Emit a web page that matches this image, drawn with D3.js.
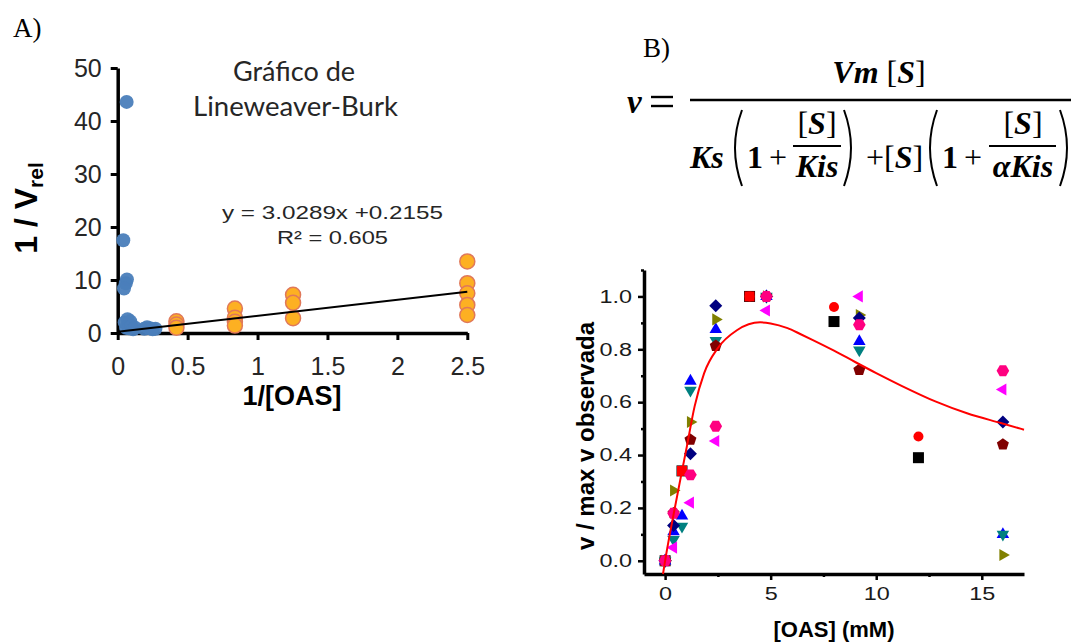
<!DOCTYPE html>
<html><head><meta charset="utf-8">
<script src="https://cdn.jsdelivr.net/npm/d3@7"></script>
<style>body{margin:0;background:#fff;} svg{display:block;}</style>
</head><body>
<svg id="chart" width="1076" height="642"></svg>
<script>
// ---------- Panel A data (Lineweaver-Burk) ----------
const aTicksX = [0, 0.5, 1, 1.5, 2, 2.5];
const aTickLabelsX = ["0", "0.5", "1", "1.5", "2", "2.5"];
const aTicksY = [0, 10, 20, 30, 40, 50];
const blueX = [0.064, 0.04, 0.066, 0.058, 0.045, 0.05, 0.07, 0.09, 0.06, 0.08, 0.1, 0.11, 0.125, 0.19, 0.21, 0.23, 0.25, 0.27];
const blueY = [43.6, 17.5, 10.1, 9.4, 8.4, 2.0, 2.6, 2.2, 1.0, 0.9, 1.3, 0.7, 1.0, 0.8, 1.1, 0.9, 0.7, 0.8];
const orangeX = [2.5, 2.5, 2.5, 2.5, 2.5, 1.254, 1.254, 1.254, 0.838, 0.838, 0.838, 0.838, 0.42, 0.42, 0.42];
const orangeY = [13.5, 9.4, 7.5, 5.3, 3.4, 7.2, 5.7, 2.8, 4.6, 2.9, 2.1, 1.4, 2.2, 1.6, 1.0];
const trendSlope = 3.0289, trendIntercept = 0.2155;
const trendX = [0, 2.5];
const trendLabel1 = "y = 3.0289x +0.2155";
const trendLabel2 = "R² = 0.605";

// ---------- Panel B data ----------
const bTicksX = [0, 5, 10, 15];
const bMinorX = [2.5, 7.5, 12.5];
const bTicksY = [0, 0.2, 0.4, 0.6, 0.8, 1.0];
const bTickLabelsY = ["0.0", "0.2", "0.4", "0.6", "0.8", "1.0"];
const bMinorY = [0.1, 0.3, 0.5, 0.7, 0.9, 1.1];

const sqBlackX = [0, 0.8, 4, 8, 12];
const sqBlackY = [0, 0.34, 1.0, 0.905, 0.39];
const circRedX = [0, 4, 8, 12];
const circRedY = [0, 1.0, 0.96, 0.47];
const sqRedX = [0, 0.8, 4];
const sqRedY = [0, 0.34, 1.0];
const triUpX = [0, 0.4, 0.8, 1.2, 2.4, 4.8, 9.2, 16];
const triUpY = [0, 0.11, 0.17, 0.68, 0.875, 1.0, 0.83, 0.1];
const triDownX = [0, 0.4, 0.8, 1.2, 2.4, 4.8, 9.2, 16];
const triDownY = [0, 0.08, 0.13, 0.645, 0.833, 1.0, 0.797, 0.1];
const triLeftX = [0, 0.4, 1.2, 2.4, 4.8, 9.2, 16];
const triLeftY = [0, 0.05, 0.22, 0.453, 0.947, 1.0, 0.648];
const triRightX = [0, 0.4, 1.2, 2.4, 4.8, 9.2, 16];
const triRightY = [0, 0.266, 0.525, 0.913, 1.0, 0.93, 0.022];
const diamondX = [0, 0.4, 1.2, 2.4, 4.8, 9.2, 16];
const diamondY = [0, 0.133, 0.405, 0.965, 1.0, 0.918, 0.525];
const pentagonX = [0, 0.4, 1.2, 2.4, 4.8, 9.2, 16];
const pentagonY = [0, 0.18, 0.458, 0.813, 1.0, 0.722, 0.44];
const hexagonX = [0, 0.4, 1.2, 2.4, 4.8, 9.2, 16];
const hexagonY = [0, 0.18, 0.325, 0.509, 1.0, 0.893, 0.719];

// fitted curve, points
const fitX = [-0.1, 0, 0.4, 0.8, 1.0, 1.4, 1.85, 2.5, 3.4, 4.5, 5.0, 5.8, 6.4, 7.0, 8.0, 9.0, 10, 11.2, 12.8, 14.3, 15.9, 17];
const fitY = [-0.05, 0, 0.175, 0.34, 0.42, 0.585, 0.71, 0.805, 0.872, 0.902, 0.898, 0.88, 0.858, 0.835, 0.795, 0.752, 0.71, 0.662, 0.603, 0.558, 0.521, 0.496];

const svg = d3.select("#chart");
const SANS = "'Liberation Sans', Arial, sans-serif";
const SERIF = "'Liberation Serif', 'Times New Roman', serif";

// ================= PANEL A =================
const ax = d3.scaleLinear().domain([0, 2.5]).range([117.7, 467.3]);
const ay = d3.scaleLinear().domain([0, 50]).range([333, 68]);

svg.append("text").attr("x", 13).attr("y", 37).attr("font-family", SERIF)
  .attr("font-size", 27).attr("fill", "#000").text("A)");

const gA = svg.append("g");
const axA = gA.append("g").attr("transform", "translate(0,333)")
  .call(d3.axisBottom(ax).tickValues(aTicksX).tickFormat((d, i) => aTickLabelsX[i]).tickSize(7).tickSizeOuter(0).tickPadding(17));
const ayA = gA.append("g").attr("transform", "translate(117.7,0)")
  .call(d3.axisLeft(ay).tickValues(aTicksY).tickSize(7).tickSizeOuter(0).tickPadding(9));
[axA, ayA].forEach(g => {
  g.select(".domain").attr("stroke", "#000").attr("stroke-width", 3.5);
  g.selectAll(".tick line").attr("stroke", "#000").attr("stroke-width", 3);
  g.selectAll(".tick text").attr("font-family", SANS).attr("font-size", 25).attr("fill", "#262626");
});

const trendLine = d3.line().x(d => ax(d)).y(d => ay(trendSlope * d + trendIntercept));

gA.selectAll(".blue").data(blueX.map((x, i) => [x, blueY[i]])).join("circle")
  .attr("cx", d => ax(d[0])).attr("cy", d => ay(d[1])).attr("r", 7)
  .attr("fill", "#4a7ebb").attr("fill-opacity", 0.95);
gA.selectAll(".orange").data(orangeX.map((x, i) => [x, orangeY[i]])).join("circle")
  .attr("cx", d => ax(d[0])).attr("cy", d => ay(d[1])).attr("r", 7.5)
  .attr("fill", "#fdb022").attr("stroke", "#e0785a").attr("stroke-width", 1.5);
gA.append("path").datum(trendX).attr("d", trendLine).attr("fill", "none")
  .attr("stroke", "#000").attr("stroke-width", 2);

gA.append("text").attr("x", 294).attr("y", 81).attr("text-anchor", "middle")
  .attr("font-family", "Lato, 'Open Sans', sans-serif").attr("font-size", 27).attr("fill", "#262626")
  .attr("textLength", 122).attr("lengthAdjust", "spacingAndGlyphs").text("Gráfico de");
gA.append("text").attr("x", 295.5).attr("y", 116).attr("text-anchor", "middle")
  .attr("font-family", "Lato, 'Open Sans', sans-serif").attr("font-size", 27).attr("fill", "#262626")
  .attr("textLength", 205).attr("lengthAdjust", "spacingAndGlyphs").text("Lineweaver-Burk");
gA.append("text").attr("x", 332.5).attr("y", 219).attr("text-anchor", "middle")
  .attr("font-family", SANS).attr("font-size", 19).attr("fill", "#262626")
  .attr("textLength", 221).attr("lengthAdjust", "spacingAndGlyphs").text(trendLabel1);
gA.append("text").attr("x", 332.5).attr("y", 244).attr("text-anchor", "middle")
  .attr("font-family", SANS).attr("font-size", 19).attr("fill", "#262626")
  .attr("textLength", 111).attr("lengthAdjust", "spacingAndGlyphs").text(trendLabel2);

const ytA = gA.append("text").attr("transform", "translate(37,208) rotate(-90)")
  .attr("text-anchor", "middle").attr("font-family", SANS).attr("font-weight", "bold")
  .attr("font-size", 32).attr("fill", "#000");
ytA.append("tspan").text("1 / V");
ytA.append("tspan").attr("font-size", 21).attr("dy", 6).text("rel");
gA.append("text").attr("x", 292).attr("y", 405).attr("text-anchor", "middle")
  .attr("font-family", SANS).attr("font-weight", "bold").attr("font-size", 27).attr("fill", "#000")
  .text("1/[OAS]");

// ================= PANEL B =================
svg.append("text").attr("x", 643).attr("y", 57).attr("font-family", SERIF)
  .attr("font-size", 27).attr("fill", "#000").text("B)");

const eq = svg.append("g").attr("font-family", SERIF).attr("fill", "#000");
function t(x, y, s, opts = {}) {
  return eq.append("text").attr("x", x).attr("y", y).attr("font-size", opts.size || 32)
    .attr("text-anchor", opts.anchor || "start")
    .attr("font-style", opts.italic === false ? "normal" : "italic")
    .attr("font-weight", opts.bold === false ? "normal" : "bold").text(s);
}
t(627, 113, "v", { size: 33 });
eq.append("line").attr("x1", 651).attr("x2", 673).attr("y1", 97).attr("y2", 97).attr("stroke", "#000").attr("stroke-width", 2.4);
eq.append("line").attr("x1", 651).attr("x2", 673).attr("y1", 106).attr("y2", 106).attr("stroke", "#000").attr("stroke-width", 2.4);
eq.append("line").attr("x1", 690).attr("x2", 1071).attr("y1", 100).attr("y2", 100).attr("stroke", "#000").attr("stroke-width", 2.5);
const num = t(879, 83, "", { anchor: "middle" });
num.append("tspan").text("Vm ");
num.append("tspan").attr("font-style", "normal").attr("font-weight", "normal").text("[");
num.append("tspan").text("S");
num.append("tspan").attr("font-style", "normal").attr("font-weight", "normal").text("]");
t(690, 168, "Ks");
function paren(x, open) {
  const d = open ? `M${x + 9},110 Q${x - 5},148 ${x + 9},186` : `M${x},110 Q${x + 14},148 ${x},186`;
  eq.append("path").attr("d", d).attr("fill", "none").attr("stroke", "#000").attr("stroke-width", 2);
}
paren(733, true);
t(747, 168, "1", { italic: false });
t(769, 168, "+", { italic: false, bold: false });
function sBr(x, y, anchor) {
  const e = t(x, y, "", { anchor: anchor });
  e.append("tspan").attr("font-style", "normal").attr("font-weight", "normal").text("[");
  e.append("tspan").text("S");
  e.append("tspan").attr("font-style", "normal").attr("font-weight", "normal").text("]");
  return e;
}
sBr(817, 134, "middle");
eq.append("line").attr("x1", 793).attr("x2", 841).attr("y1", 146).attr("y2", 146).attr("stroke", "#000").attr("stroke-width", 1.8);
t(817, 177, "Kis", { anchor: "middle" });
paren(844, false);
t(866, 168, "+", { italic: false, bold: false });
sBr(884, 168, "start");
paren(928, true);
t(942, 168, "1", { italic: false });
t(964, 168, "+", { italic: false, bold: false });
sBr(1023, 134, "middle");
eq.append("line").attr("x1", 989).attr("x2", 1056).attr("y1", 146).attr("y2", 146).attr("stroke", "#000").attr("stroke-width", 1.8);
t(1023, 177, "αKis", { anchor: "middle" });
paren(1060, false);

const bx = d3.scaleLinear().domain([-1, 17]).range([644, 1024]);
const by = d3.scaleLinear().domain([-0.05, 1.1]).range([574, 270]);
const gB = svg.append("g");
const xAxB = gB.append("g").attr("transform", "translate(0,574)")
  .call(d3.axisBottom(bx).tickValues(bTicksX).tickSize(6).tickSizeOuter(0).tickPadding(7));
const yAxB = gB.append("g").attr("transform", "translate(644,0)")
  .call(d3.axisLeft(by).tickValues(bTicksY).tickFormat((d, i) => bTickLabelsY[i]).tickSize(6).tickSizeOuter(0).tickPadding(6));
gB.append("g").attr("transform", "translate(0,574)")
  .call(d3.axisBottom(bx).tickValues(bMinorX).tickSize(3).tickFormat("").tickSizeOuter(0))
  .call(g => g.select(".domain").remove())
  .selectAll("line").attr("stroke", "#000").attr("stroke-width", 2.5);
gB.append("g").attr("transform", "translate(644,0)")
  .call(d3.axisLeft(by).tickValues(bMinorY).tickSize(3).tickFormat("").tickSizeOuter(0))
  .call(g => g.select(".domain").remove())
  .selectAll("line").attr("stroke", "#000").attr("stroke-width", 2.5);
[xAxB, yAxB].forEach(g => {
  g.select(".domain").attr("stroke", "#000").attr("stroke-width", 3.5);
  g.selectAll(".tick line").attr("stroke", "#000").attr("stroke-width", 2.5);
  g.selectAll(".tick text").attr("font-family", SANS).attr("font-size", 18).attr("fill", "#1a1a1a")
    .each(function () {
      const w = this.getComputedTextLength();
      d3.select(this).attr("textLength", w * 1.3).attr("lengthAdjust", "spacingAndGlyphs");
    });
});

const fitLine = d3.line().x(d => bx(d[0])).y(d => by(d[1])).curve(d3.curveMonotoneX);

function poly(n, r, startDeg) {
  const pts = [];
  for (let k = 0; k < n; k++) {
    const a = (startDeg + k * 360 / n) * Math.PI / 180;
    pts.push([r * Math.cos(a), r * Math.sin(a)]);
  }
  return "M" + pts.map(p => p[0].toFixed(2) + "," + p[1].toFixed(2)).join("L") + "Z";
}
const shapes = {
  square: r => `M${-r},${-r}H${r}V${r}H${-r}Z`,
  circle: r => `M${r},0A${r},${r} 0 1,1 ${-r},0A${r},${r} 0 1,1 ${r},0Z`,
  up: r => poly(3, r, -90),
  down: r => poly(3, r, 90),
  left: r => poly(3, r, 180),
  right: r => poly(3, r, 0),
  diamond: r => poly(4, r, -90),
  pentagon: r => poly(5, r, -90),
  hexagon: r => poly(6, r, 0)
};
const seriesB = [
  { x: sqBlackX, y: sqBlackY, shape: "square", r: 5.5, color: "#000000" },
  { x: circRedX, y: circRedY, shape: "circle", r: 5, color: "#ff0000" },
  { x: sqRedX, y: sqRedY, shape: "square", r: 5, color: "#ff0000" },
  { x: triUpX, y: triUpY, shape: "up", r: 7.2, color: "#0000ff" },
  { x: triDownX, y: triDownY, shape: "down", r: 7.2, color: "#008080" },
  { x: triLeftX, y: triLeftY, shape: "left", r: 7, color: "#ff00ff" },
  { x: triRightX, y: triRightY, shape: "right", r: 7, color: "#808000" },
  { x: diamondX, y: diamondY, shape: "diamond", r: 6.5, color: "#000080" },
  { x: pentagonX, y: pentagonY, shape: "pentagon", r: 6.3, color: "#800000" },
  { x: hexagonX, y: hexagonY, shape: "hexagon", r: 6.3, color: "#ff0080" }
];
seriesB.forEach(s => {
  gB.append("g").selectAll("path").data(s.x.map((x, i) => [x, s.y[i]])).join("path")
    .attr("transform", d => `translate(${bx(d[0])},${by(d[1])})`)
    .attr("d", shapes[s.shape](s.r)).attr("fill", s.color);
});
gB.append("path").datum(fitX.map((x, i) => [x, fitY[i]])).attr("d", fitLine)
  .attr("fill", "none").attr("stroke", "#ff0000").attr("stroke-width", 2);

gB.append("text").attr("transform", "translate(594,436) rotate(-90)").attr("text-anchor", "middle")
  .attr("font-family", SANS).attr("font-weight", "bold").attr("font-size", 24).attr("fill", "#000")
  .text("v / max v observada");
gB.append("text").attr("x", 834).attr("y", 637).attr("text-anchor", "middle")
  .attr("font-family", SANS).attr("font-weight", "bold").attr("font-size", 22).attr("fill", "#000")
  .text("[OAS] (mM)");
</script>
</body></html>
